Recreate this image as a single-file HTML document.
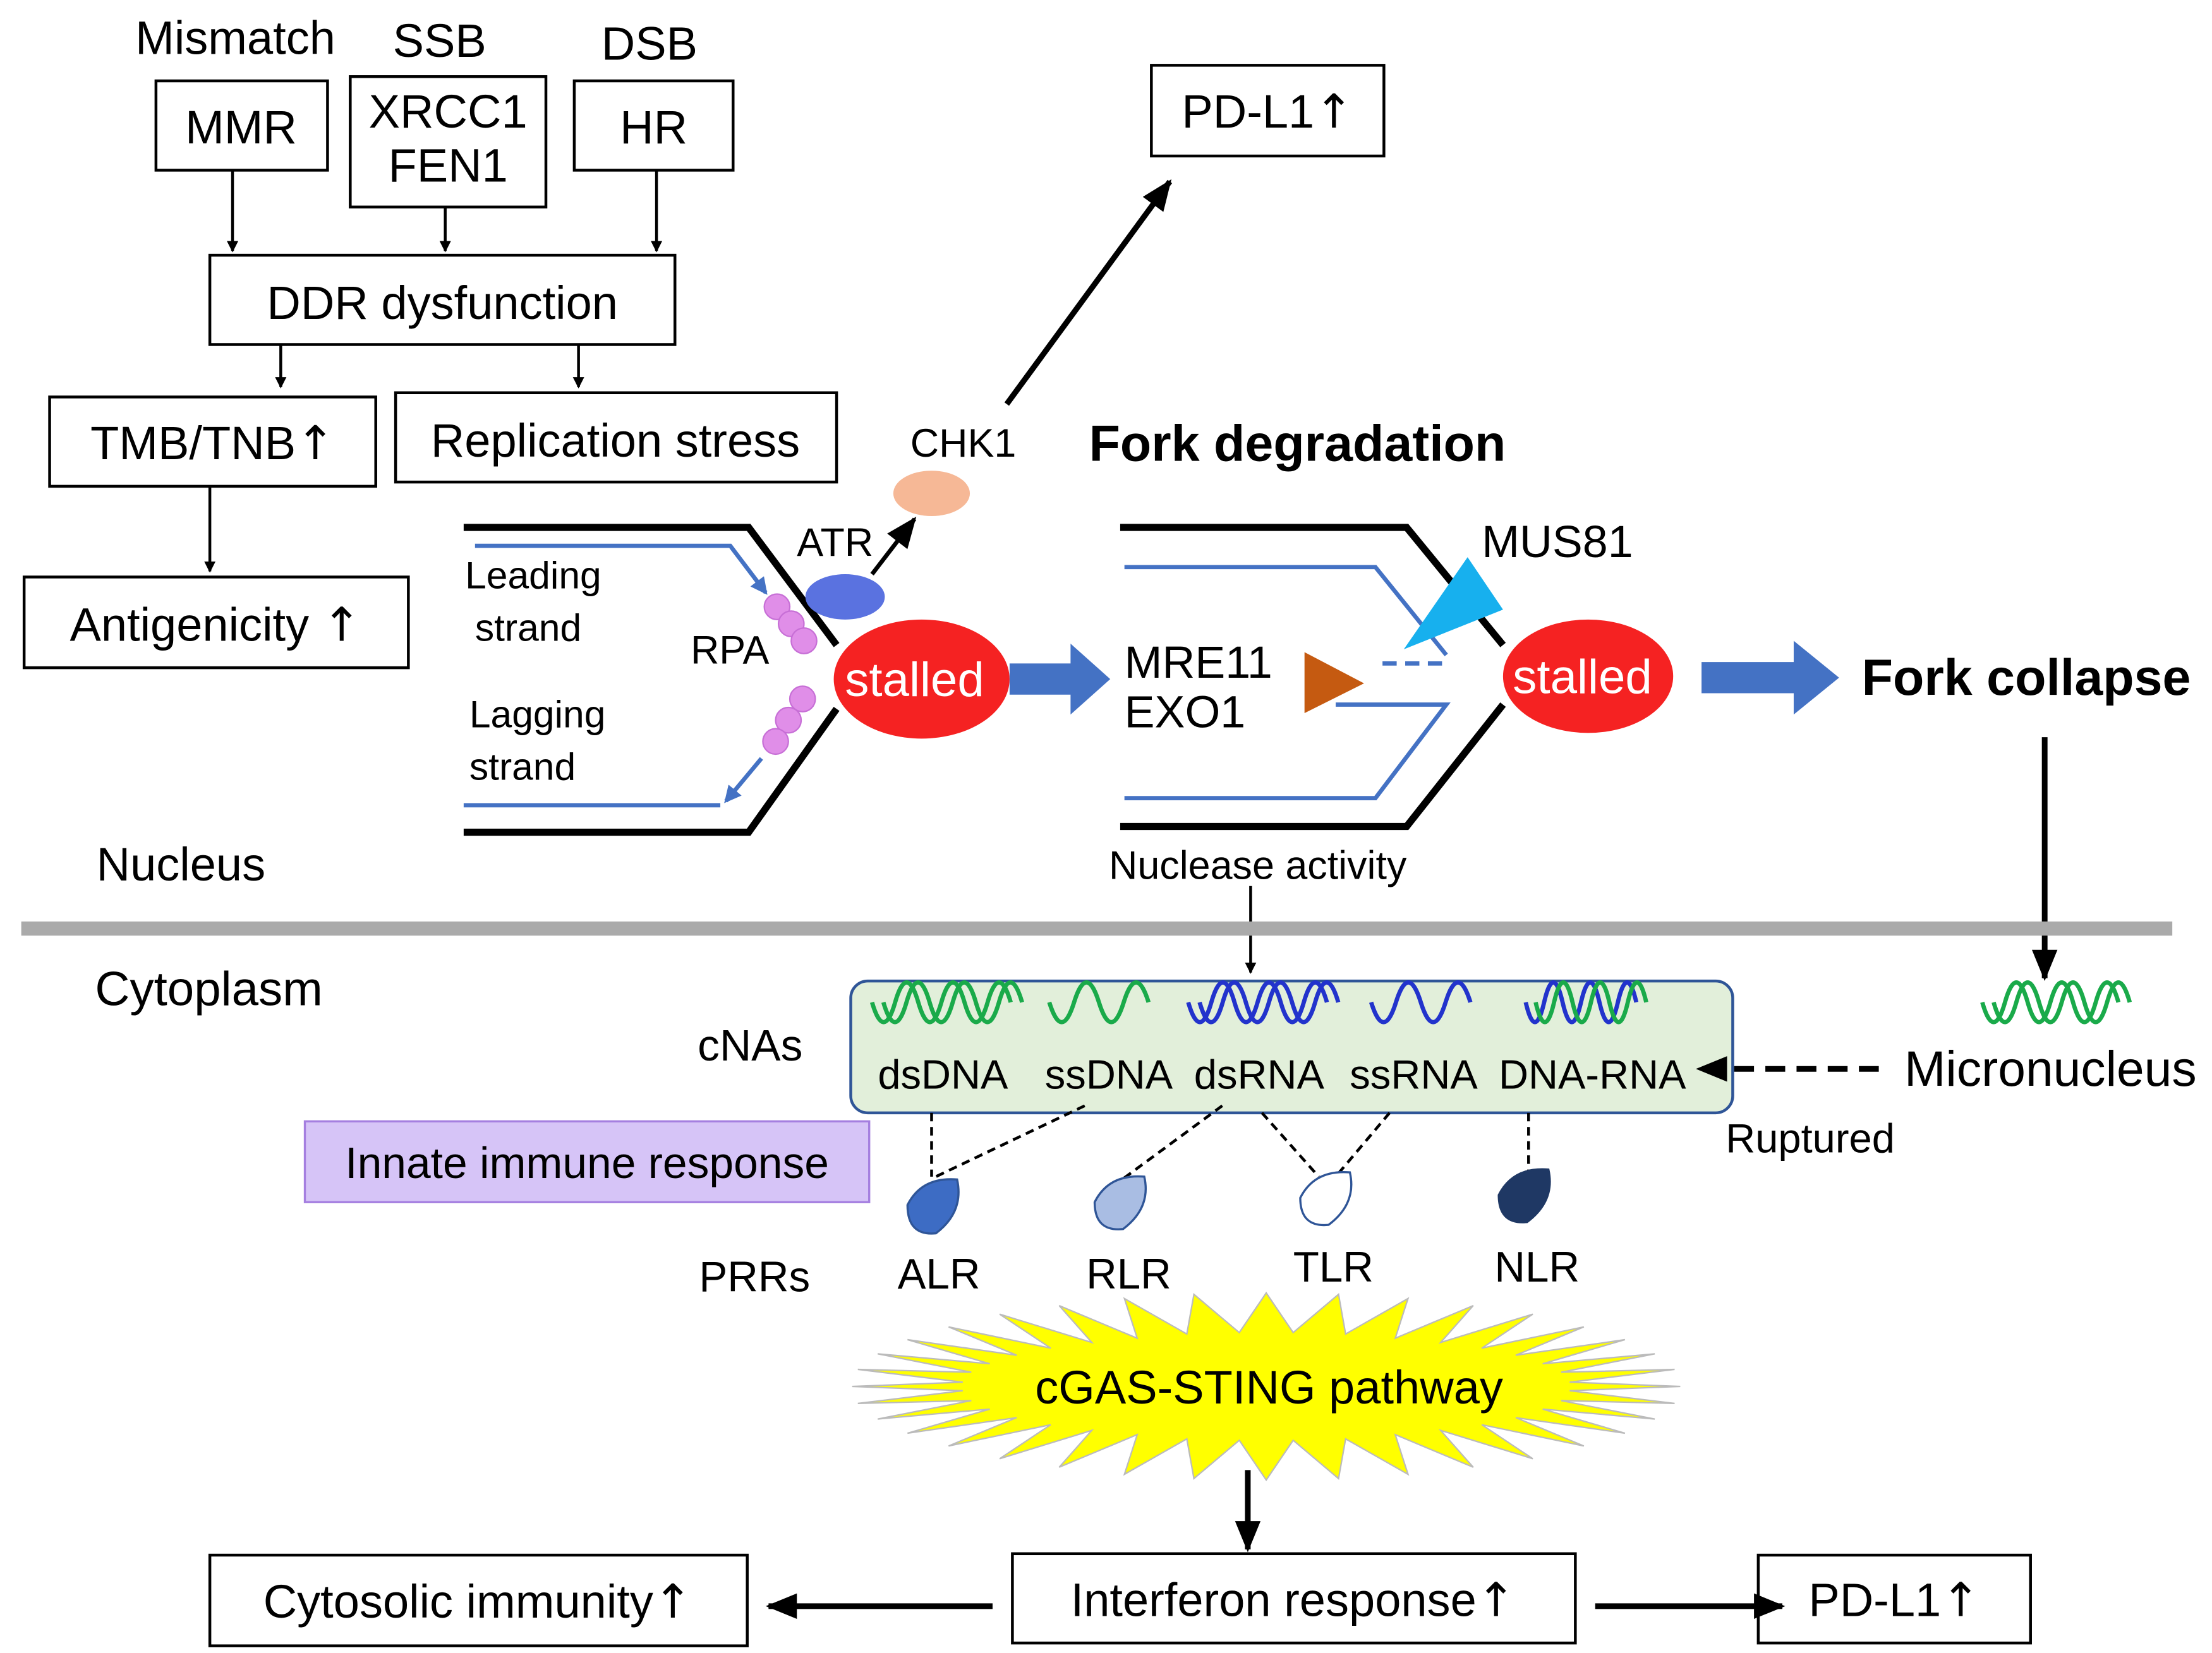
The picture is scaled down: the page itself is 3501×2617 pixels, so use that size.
<!DOCTYPE html>
<html><head><meta charset="utf-8">
<style>
html,body{margin:0;padding:0;background:#fff;}
svg{display:block;}
text{font-family:"Liberation Sans","DejaVu Sans",sans-serif;fill:#000;}
.ar{font-family:"DejaVu Sans",sans-serif;}
</style></head>
<body>
<svg width="3501" height="2617" viewBox="0 0 1560 1166" xmlns="http://www.w3.org/2000/svg">
<defs>
<marker id="a" markerWidth="8" markerHeight="8" refX="7" refY="4" orient="auto" markerUnits="userSpaceOnUse"><path d="M0,0 L8,4 L0,8 z" fill="#000"/></marker>
<marker id="A" markerWidth="22" markerHeight="18" refX="20" refY="9" orient="auto" markerUnits="userSpaceOnUse"><path d="M0,0 L22,9 L0,18 z" fill="#000"/></marker>
<marker id="b" markerWidth="12" markerHeight="12" refX="10" refY="6" orient="auto" markerUnits="userSpaceOnUse"><path d="M0,0 L12,6 L0,12 z" fill="#4472c4"/></marker>
</defs>
<g stroke="#000" stroke-width="2" fill="none">
<rect x="110" y="57" width="121" height="63"/>
<rect x="247" y="54" width="138" height="92"/>
<rect x="405" y="57" width="112" height="63"/>
<rect x="148" y="180" width="328" height="63"/>
<rect x="35" y="280" width="230" height="63"/>
<rect x="279" y="277" width="311" height="63"/>
<rect x="17" y="407" width="271" height="64"/>
<rect x="812" y="46" width="164" height="64"/>
<rect x="148" y="1097" width="379" height="64"/>
<rect x="714" y="1096" width="397" height="63"/>
<rect x="1240" y="1097" width="192" height="62"/>
<line x1="164" y1="120" x2="164" y2="177" marker-end="url(#a)"/>
<line x1="314" y1="146" x2="314" y2="177" marker-end="url(#a)"/>
<line x1="463" y1="120" x2="463" y2="177" marker-end="url(#a)"/>
<line x1="198" y1="243" x2="198" y2="273" marker-end="url(#a)"/>
<line x1="408" y1="243" x2="408" y2="273" marker-end="url(#a)"/>
<line x1="148" y1="343" x2="148" y2="403" marker-end="url(#a)"/>
<line x1="882" y1="625" x2="882" y2="686" marker-end="url(#a)"/>
</g>
<g stroke="#000" stroke-width="4" fill="none">
<line x1="710" y1="285" x2="825" y2="128" marker-end="url(#A)"/>
<line x1="1442" y1="520" x2="1442" y2="690" marker-end="url(#A)"/>
<line x1="880" y1="1037" x2="880" y2="1093" marker-end="url(#A)"/>
<line x1="700" y1="1133" x2="542" y2="1133" marker-end="url(#A)"/>
<line x1="1125" y1="1133" x2="1257" y2="1133" marker-end="url(#A)"/>
</g>
<line x1="615" y1="405" x2="645" y2="366" stroke="#000" stroke-width="3" marker-end="url(#A)"/>
<g font-size="33" text-anchor="middle">
<text x="166" y="38">Mismatch</text><text x="310" y="40">SSB</text><text x="458" y="42">DSB</text>
<text x="170" y="101">MMR</text><text x="316" y="90">XRCC1</text><text x="316" y="128">FEN1</text>
<text x="461" y="101">HR</text><text x="312" y="225">DDR dysfunction</text>
<text x="150" y="324">TMB/TNB<tspan class="ar">↑</tspan></text><text x="434" y="322">Replication stress</text>
<text x="152" y="452">Antigenicity <tspan class="ar">↑</tspan></text><text x="894" y="90">PD-L1<tspan class="ar">↑</tspan></text>
<text x="337" y="1141">Cytosolic immunity<tspan class="ar">↑</tspan></text><text x="912" y="1140">Interferon response<tspan class="ar">↑</tspan></text>
<text x="1336" y="1140">PD-L1<tspan class="ar">↑</tspan></text>
</g>
<g font-size="28">
<text x="642" y="322">CHK1</text><text x="562" y="392">ATR</text>
<text x="328" y="415" font-size="27">Leading</text><text x="335" y="452" font-size="27">strand</text>
<text x="331" y="513" font-size="27">Lagging</text><text x="331" y="550" font-size="27">strand</text>
<text x="487" y="468">RPA</text>
<text x="793" y="478" font-size="32">MRE11</text><text x="793" y="513" font-size="32">EXO1</text>
<text x="1045" y="393" font-size="32">MUS81</text>
<text x="68" y="621" font-size="33">Nucleus</text><text x="67" y="709" font-size="34">Cytoplasm</text>
<text x="782" y="620" font-size="28">Nuclease activity</text>
<text x="492" y="748" font-size="31">cNAs</text>
<text x="1343" y="766" font-size="35">Micronucleus</text><text x="1217" y="813" font-size="29">Ruptured</text>
<text x="493" y="911" font-size="30">PRRs</text>
<text x="633" y="909" font-size="30">ALR</text><text x="766" y="909" font-size="30">RLR</text>
<text x="912" y="904" font-size="30">TLR</text><text x="1054" y="904" font-size="30">NLR</text>
</g>
<text x="768" y="325" font-size="36" font-weight="bold">Fork degradation</text>
<text x="1313" y="490" font-size="36" font-weight="bold">Fork collapse</text>
<rect x="15" y="650" width="1517" height="10" fill="#aaa"/>
<g fill="none" stroke-width="5" stroke="#000">
<polyline points="327,372 528,372 590,455"/><polyline points="327,587 528,587 590,500"/>
<polyline points="790,372 992,372 1060,455"/><polyline points="790,583 992,583 1060,497"/>
</g>
<g fill="none" stroke-width="3" stroke="#4472c4">
<polyline points="335,385 515,385 540,418" marker-end="url(#b)"/>
<polyline points="327,568 508,568"/>
<line x1="537" y1="535" x2="512" y2="565" marker-end="url(#b)"/>
<polyline points="793,400 970,400 1020,462"/>
<polyline points="942,497 1020,497 970,563 793,563"/>
<line x1="975" y1="468" x2="1020" y2="468" stroke-dasharray="10,6"/>
</g>
<g fill="#e08ee8" stroke="#c76fd6" stroke-width="1">
<circle cx="548" cy="428" r="9"/><circle cx="558" cy="440" r="9"/><circle cx="567" cy="452" r="9"/>
<circle cx="566" cy="493" r="9"/><circle cx="556" cy="508" r="9"/><circle cx="547" cy="523" r="9"/>
</g>
<ellipse cx="657" cy="348" rx="27" ry="16" fill="#f6b896"/>
<ellipse cx="596" cy="421" rx="28" ry="16" fill="#5a72e0"/>
<ellipse cx="650" cy="479" rx="62" ry="42" fill="#f52222"/>
<ellipse cx="1120" cy="477" rx="60" ry="40" fill="#f52222"/>
<text x="645" y="491" font-size="34" text-anchor="middle" style="fill:#fff">stalled</text>
<text x="1116" y="489" font-size="34" text-anchor="middle" style="fill:#fff">stalled</text>
<polygon points="712,468 755,468 755,454 783,479 755,504 755,490 712,490" fill="#4472c4"/>
<polygon points="1200,467 1265,467 1265,452 1297,478 1265,504 1265,489 1200,489" fill="#4472c4"/>
<polygon points="920,460 962,482 920,503" fill="#c55a11"/>
<polygon points="990,458 1060,430 1035,393" fill="#17b0ee"/>
<rect x="600" y="692" width="622" height="93" rx="12" fill="#e2efda" stroke="#2f5597" stroke-width="2"/>
<line x1="1325" y1="754" x2="1198" y2="754" stroke="#000" stroke-width="4" stroke-dasharray="14,8" marker-end="url(#A)"/>
<g fill="none" stroke-width="3">
<path stroke="#1aaa4a" d="M615,707 q8.2,28 16.3,0 t16.3,0 t16.3,0 t16.3,0 t16.3,0 t16.3,0"/>
<path stroke="#1aaa4a" d="M623,707 q8.2,28 16.3,0 t16.3,0 t16.3,0 t16.3,0 t16.3,0 t16.3,0"/>
<path stroke="#1aaa4a" d="M740,707 q8.75,28 17.5,0 t17.5,0 t17.5,0 t17.5,0"/>
<path stroke="#2233cc" d="M838,707 q8.2,28 16.3,0 t16.3,0 t16.3,0 t16.3,0 t16.3,0 t16.3,0"/>
<path stroke="#2233cc" d="M846,707 q8.2,28 16.3,0 t16.3,0 t16.3,0 t16.3,0 t16.3,0 t16.3,0"/>
<path stroke="#2233cc" d="M967,707 q8.75,28 17.5,0 t17.5,0 t17.5,0 t17.5,0"/>
<path stroke="#2233cc" d="M1076,707 q6.5,28 13,0 t13,0 t13,0 t13,0 t13,0 t13,0"/>
<path stroke="#1aaa4a" d="M1083,707 q6.5,28 13,0 t13,0 t13,0 t13,0 t13,0 t13,0"/>
<path stroke="#1aaa4a" d="M1398,707 q8,28 16,0 t16,0 t16,0 t16,0 t16,0 t16,0"/>
<path stroke="#1aaa4a" d="M1406,707 q8,28 16,0 t16,0 t16,0 t16,0 t16,0 t16,0"/>
</g>
<g font-size="29" text-anchor="middle">
<text x="665" y="768">dsDNA</text><text x="782" y="768">ssDNA</text><text x="888" y="768">dsRNA</text>
<text x="997" y="768">ssRNA</text><text x="1123" y="768">DNA-RNA</text>
</g>
<rect x="215" y="791" width="398" height="57" fill="#d6c4f7" stroke="#a57fe0" stroke-width="1.5"/>
<text x="414" y="831" font-size="31" text-anchor="middle">Innate immune response</text>
<g stroke="#000" stroke-width="2" stroke-dasharray="6,4" fill="none">
<line x1="657" y1="785" x2="657" y2="830"/><line x1="765" y1="780" x2="660" y2="830"/>
<line x1="862" y1="780" x2="790" y2="833"/><line x1="890" y1="785" x2="930" y2="830"/>
<line x1="980" y1="785" x2="942" y2="830"/><line x1="1078" y1="785" x2="1078" y2="828"/>
</g>
<g stroke-width="1.5">
<path d="M640,850 Q650,830 675,832 Q680,855 660,870 Q640,872 640,850 Z" fill="#3d6cc4" stroke="#2f5597"/>
<path d="M772,848 Q782,828 807,830 Q812,852 792,867 Q772,869 772,848 Z" fill="#a9bde3" stroke="#2f5597"/>
<path d="M917,845 Q927,825 952,827 Q957,849 937,864 Q917,866 917,845 Z" fill="#fff" stroke="#2f5597"/>
<path d="M1057,843 Q1067,823 1092,825 Q1097,847 1077,862 Q1057,864 1057,843 Z" fill="#1f3864" stroke="#1f3864"/>
</g>
<polygon fill="#ffff00" stroke="#bbb" stroke-width="1" points="1185,978 1107,981 1181,990 1101,988 1167,1001 1088,994 1146,1011 1069,1000 1117,1020 1045,1005 1081,1029 1016,1009 1039,1035 984,1012 993,1040 949,1015 944,1043 912,1016 893,1044 874,1016 842,1043 837,1015 793,1040 802,1012 747,1035 770,1009 705,1029 741,1005 669,1020 717,1000 640,1011 698,994 619,1001 685,988 605,990 679,981 601,978 679,975 605,966 685,968 619,955 698,962 640,945 717,956 669,936 741,951 705,927 770,947 747,921 802,944 793,916 837,941 842,913 874,940 893,912 912,940 944,913 949,941 993,916 984,944 1039,921 1016,947 1081,927 1045,951 1117,936 1069,956 1146,945 1088,962 1167,955 1101,968 1181,966 1107,975"/>
<text x="895" y="990" font-size="33" text-anchor="middle">cGAS-STING pathway</text>
</svg>
</body></html>
